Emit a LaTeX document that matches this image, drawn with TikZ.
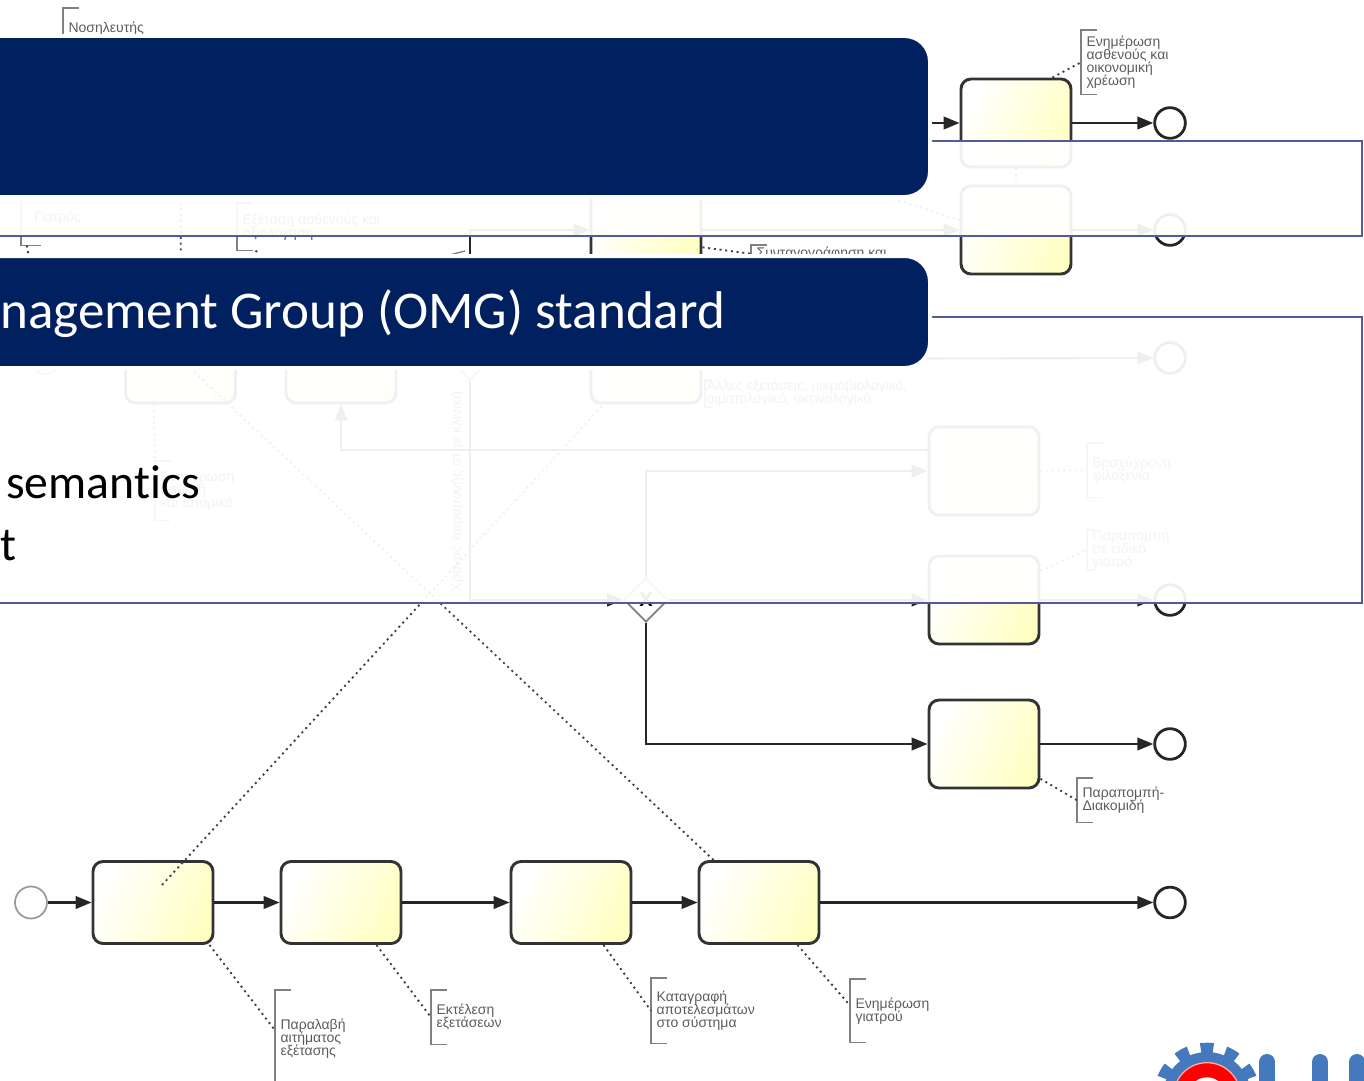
\documentclass[tikz,border=0pt]{standalone}
\usepackage{fontspec}
\setmainfont{Liberation Sans}
\newfontfamily\slidefont[Ligatures=NoCommon]{Carlito}
\usepackage[dvipsnames]{xcolor}
\usetikzlibrary{arrows.meta, shapes.geometric, positioning}
\definecolor{bandBlue}{HTML}{002060}
\definecolor{calloutBlue}{HTML}{525A99}
\definecolor{taskYellow}{HTML}{FFFFC4}
\definecolor{noteGrey}{HTML}{5C5C5C}
\definecolor{logoBlue}{HTML}{4579BE}
\newcommand{\noteFont}{\fontsize{10.5}{9.75}\selectfont\lineskiplimit -5pt\relax}
\tikzstyle{bTask} = [rectangle, rounded corners=7.5pt, minimum width=82.5pt, minimum height=66pt, inner sep=0pt, draw=black!80, line width=2.2pt, left color=white, right color=taskYellow, shading angle=65]
\tikzstyle{bLongTask} = [bTask, minimum width=90pt, minimum height=61.5pt]
\tikzstyle{bEnd} = [circle, minimum size=23pt, inner sep=0pt, draw=black!85, line width=2.1pt, fill=white]
\tikzstyle{bStart} = [circle, minimum size=24pt, inner sep=0pt, draw=black!40, line width=1.3pt, fill=white]
\tikzstyle{bGate} = [diamond, minimum size=33pt, inner sep=0pt, draw=black!50, line width=1.4pt, fill=white, font=\bfseries\fontsize{15}{15}\selectfont]
\tikzstyle{bNote} = [rectangle, anchor=north west, inner xsep=4pt, inner ysep=0pt, align=left, text=noteGrey, font=\noteFont]
\tikzstyle{bBracket} = [draw=black!50, line width=1pt]
\tikzstyle{bFlow} = [draw=black!85, line width=1.6pt, ->, >={Stealth[length=12pt,width=9.5pt,inset=0pt]}]
\tikzstyle{bDots} = [draw=black!75, line width=1.4pt, dash pattern=on 1.5pt off 2.8pt]
\tikzstyle{bBand} = [rectangle, rounded corners=19pt, draw=white, line width=3pt, fill=bandBlue]
\tikzstyle{bCallout} = [draw=calloutBlue, line width=2pt]
\tikzstyle{bFade} = [fill=white, fill opacity=0.93]
\tikzstyle{bSlide} = [anchor=base west, inner sep=0pt, font=\slidefont\fontsize{39.8}{40}\selectfont]

\begin{document}
\begin{tikzpicture}[x=0.75pt, y=-0.75pt, node distance=141pt]
    \useasboundingbox (0,0) rectangle (1364,1081);

    % bottom row
    \node (startA) [bStart] at (31,902.5) {};
    \node (taskA) [bLongTask] at (153,902.5) {};
    \node (taskB) [bLongTask, right of=taskA] {};
    \node (taskC) [bLongTask, right of=taskB, xshift=31.5pt] {};
    \node (taskD) [bLongTask, right of=taskC] {};
    \node (endA) [bEnd] at (1170,902.5) {};

    % right column
    \node (taskTop) [bTask] at (1016,123) {};
    \node (endTop) [bEnd] at (1170,123) {};
    \node (taskMed) [bTask] at (1016,230) {};
    \node (endMed) [bEnd] at (1170,230) {};
    \node (taskShort) [bTask] at (984,471) {};
    \node (taskOut) [bTask] at (984,600) {};
    \node (endOut) [bEnd] at (1170,600) {};
    \node (taskRefer) [bTask] at (984,744) {};
    \node (endRefer) [bEnd] at (1170,744) {};

    % middle of the process
    \node (startB) [bStart] at (45,358) {};
    \node (taskNurse) [bTask] at (180.5,359) {};
    \node (taskDoctor) [bTask] at (341,359) {};
    \node (taskLab) [bTask] at (646,359) {};
    \node (taskPresc) [bTask] at (646,230) {};
    \node (endLab) [bEnd] at (1170,358) {};
    \node (gateA) [bGate] at (470,358) {};
    \node (gateB) [bGate] at (646,600) {X};
    \node (stayLabel) [rotate=90, text=noteGrey, font=\fontsize{10.5}{10.5}\selectfont] at (457,492) {Χρόνος παραμονής στην κλινική};

    % notes
    \node (noteRecv) [bNote, minimum height=72pt] at (275,990) {Παραλαβή\\αιτήματος\\εξέτασης};
    \node (noteExec) [bNote, minimum height=40.5pt] at (431,990) {Εκτέλεση\\εξετάσεων};
    \node (noteLog) [bNote, minimum height=48.75pt] at (651,978) {Καταγραφή\\αποτελεσμάτων\\στο σύστημα};
    \node (noteInform) [bNote, minimum height=47.25pt] at (850,979) {Ενημέρωση\\γιατρού};
    \node (noteRefer) [bNote, minimum height=33pt] at (1077,778) {Παραπομπή-\\Διακομιδή};
    \node (noteTop) [bNote, minimum height=48pt] at (1081,30) {Ενημέρωση\\ασθενούς και\\οικονομική\\χρέωση};
    \node (noteShort) [bNote, minimum height=40.5pt] at (1087,443) {Βραχύχρονη\\φιλοξενία};
    \node (noteSpec) [bNote, minimum height=28.5pt] at (1087,530) {Παραπομπή\\σε ειδικό\\γιατρό};
    \node (noteOther) [bNote, minimum height=19.5pt, inner xsep=1pt] at (705,380) {Άλλες εξετάσεις, μικροβιολογικό,\\αιματολογικό, ακτινολογικό};
    \node (notePatient) [bNote, minimum height=44.25pt] at (155,461) {Ενημέρωση\\ασθενή\\και ιστορικό};
    \node (noteNurse) [bNote, minimum height=30pt] at (63,8) {Νοσηλευτής};
    \node (noteDoctor) [bNote, minimum height=42pt, inner xsep=10pt] at (21,189) {Γιατρός};
    \node (noteExam) [bNote, minimum height=35.25pt] at (237,203) {Εξέταση ασθενούς και\\αξιολόγηση};
    \node (noteScript) [bNote, minimum height=12.75pt] at (751,245) {Συνταγογράφηση και};

    \draw [bBracket] ([xshift=12pt]noteRecv.north west) -- (noteRecv.north west) -- (noteRecv.south west) -- ([xshift=12pt]noteRecv.south west);
    \draw [bBracket] ([xshift=12pt]noteExec.north west) -- (noteExec.north west) -- (noteExec.south west) -- ([xshift=12pt]noteExec.south west);
    \draw [bBracket] ([xshift=12pt]noteLog.north west) -- (noteLog.north west) -- (noteLog.south west) -- ([xshift=12pt]noteLog.south west);
    \draw [bBracket] ([xshift=12pt]noteInform.north west) -- (noteInform.north west) -- (noteInform.south west) -- ([xshift=12pt]noteInform.south west);
    \draw [bBracket] ([xshift=12pt]noteRefer.north west) -- (noteRefer.north west) -- (noteRefer.south west) -- ([xshift=12pt]noteRefer.south west);
    \draw [bBracket] ([xshift=12pt]noteTop.north west) -- (noteTop.north west) -- (noteTop.south west) -- ([xshift=12pt]noteTop.south west);
    \draw [bBracket] ([xshift=12pt]noteShort.north west) -- (noteShort.north west) -- (noteShort.south west) -- ([xshift=12pt]noteShort.south west);
    \draw [bBracket] ([xshift=5pt]noteSpec.north west) -- (noteSpec.north west) -- (noteSpec.south west) -- ([xshift=5pt]noteSpec.south west);
    \draw [bBracket] ([xshift=5pt]noteOther.north west) -- (noteOther.north west) -- (noteOther.south west) -- ([xshift=5pt]noteOther.south west);
    \draw [bBracket] ([xshift=12pt]notePatient.north west) -- (notePatient.north west) -- (notePatient.south west) -- ([xshift=12pt]notePatient.south west);
    \draw [bBracket] ([xshift=12pt]noteNurse.north west) -- (noteNurse.north west) -- (noteNurse.south west);
    \draw [bBracket] (noteDoctor.north west) -- (noteDoctor.south west) -- ([xshift=15pt]noteDoctor.south west);
    \draw [bBracket] ([xshift=12pt]noteExam.north west) -- (noteExam.north west) -- (noteExam.south west) -- ([xshift=12pt]noteExam.south west);
    \draw [bBracket] ([xshift=12pt]noteScript.north west) -- (noteScript.north west) -- (noteScript.south west);
    \draw [bBracket] (465,251) -- (453,254) -- (453,262);

    % flows
    \draw [bFlow] (startA) -- (taskA);
    \draw [bFlow] (taskA) -- (taskB);
    \draw [bFlow] (taskB) -- (taskC);
    \draw [bFlow] (taskC) -- (taskD);
    \draw [bFlow] (taskD) -- (endA);
    \draw [bFlow] (taskTop) -- (endTop);
    \draw [bFlow] (taskMed) -- (endMed);
    \draw [bFlow] (taskOut) -- (endOut);
    \draw [bFlow] (taskRefer) -- (endRefer);
    \draw [bFlow] (taskLab) -- (endLab);
    \draw [bFlow] (gateA) |- (taskPresc);
    \draw [bFlow] (gateA) |- (gateB);
    \draw [bFlow] (taskPresc) -- (taskMed);
    \draw [bFlow] (gateB) -- (taskOut);
    \draw [bFlow] (gateB) |- (taskShort);
    \draw [bFlow] (gateB) |- (taskRefer);
    \draw [bFlow] ([yshift=15.75pt]taskShort.west) -| (taskDoctor);

    % dotted associations
    \coordinate (tickA) at (162,885);
    \coordinate (tickB) at (190,368);
    \coordinate (tickC) at (860,188);
    \coordinate (tickD) at (181,190);
    \draw [bDots] (tickA) -- ([xshift=10.5pt]taskLab.south west);
    \draw [bDots] ([xshift=12pt]taskD.north west) -- (tickB);
    \draw [bDots] ([xshift=-3.75pt]taskA.south east) -- ([yshift=6pt]noteRecv.west);
    \draw [bDots] ([xshift=-19.5pt]taskB.south east) -- (noteExec.west);
    \draw [bDots] ([xshift=-21.75pt]taskC.south east) -- (noteLog.west);
    \draw [bDots] ([xshift=-17.25pt]taskD.south east) -- ([yshift=4pt]noteInform.west);
    \draw [bDots] ([yshift=8pt]taskRefer.south east) -- (noteRefer.west);
    \draw [bDots] ([xshift=-15pt]taskTop.north east) -- (noteTop.west);
    \draw [bDots] (taskTop) -- (taskMed.north);
    \draw [bDots] (tickC) -- ([yshift=7.5pt]taskMed.west);
    \draw [bDots] (taskShort) -- (noteShort.west);
    \draw [bDots] ([yshift=22pt]taskOut.east) -- (noteSpec.west);
    \draw [bDots] ([yshift=-13pt]taskPresc.east) -- (noteScript.west);
    \draw [bDots] ([xshift=22.5pt]taskNurse.south west) -- (notePatient.north west);
    \draw [bDots] (taskNurse.north) -- (tickD);
    \draw [bDots] ([xshift=4.5pt]noteDoctor.south west) -- (startB);
    \draw [bDots] ([xshift=14pt]noteExam.south west) -- (taskDoctor);

    % logo
    \draw [logoBlue, line width=8pt, dash pattern=on 9.5pt off 9.35pt, dash phase=4.75pt] (1207,1096) circle [radius=36pt];
    \fill [logoBlue] (1207,1096) circle [radius=33pt];
    \filldraw [fill=red, draw=red!35, line width=1pt] (1207,1096) circle [radius=25pt];
    \fill [white] (1207,1096) circle [radius=14pt];
    \draw [logoBlue, line width=12pt, line cap=round] (1267,1062) -- (1267,1095);
    \draw [logoBlue, line width=12pt, line cap=round] (1320,1062) -- (1320,1095);
    \draw [logoBlue, line width=12pt, line cap=round] (1357,1062) -- (1357,1095);

    % faded parts of the slide
    \fill [bFade] (-5,141) rectangle (1362,236);
    \fill [bFade] (-5,317) rectangle (1362,603);
    \draw [bCallout] (932,141) -- (1362,141) -- (1362,236) -- (-5,236);
    \draw [bCallout] (932,317) -- (1362,317) -- (1362,603) -- (-5,603);

    % slide bands and text
    \node (bandTop) [bBand, minimum width=727.5pt, minimum height=120.75pt] at (445,116.5) {};
    \node (bandMid) [bBand, minimum width=727.5pt, minimum height=84pt] at (445,312) {};
    \node (bandText) [bSlide, text=white] at (0,328) {nagement Group (OMG) standard};
    \node (lineOne) [bSlide, font=\slidefont\fontsize{35.8}{36}\selectfont] at (6,498) {semantics};
    \node (lineTwo) [bSlide, font=\slidefont\fontsize{35.8}{36}\selectfont] at (0,560) {t};

    \draw [bFlow] (932,123) -- (taskTop);
\end{tikzpicture}
\end{document}
